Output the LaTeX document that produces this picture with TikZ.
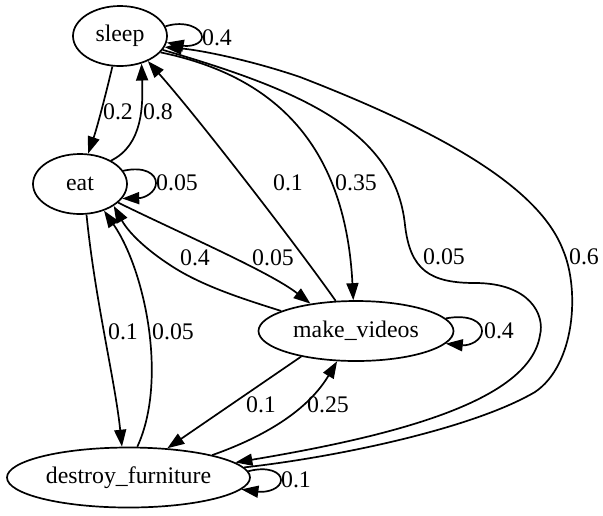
\documentclass[tikz,border=0pt]{standalone}
\usepackage{fontspec}
\setmainfont{Liberation Serif}
\usetikzlibrary{arrows.meta,shapes.geometric}
\begin{document}
\begin{tikzpicture}[x=0.5pt,y=-0.5pt,
  state/.style={draw,ellipse,line width=0.85pt,inner sep=0pt,minimum height=30pt,font=\fontsize{11.9}{14}\selectfont},
  lab/.style={inner sep=0pt,font=\fontsize{11.9}{14}\selectfont},
  edge/.style={line width=0.85pt,-{Triangle[length=8.5pt,width=6pt]}}]
\useasboundingbox (0,0) rectangle (603,515);
\fill[white] (0,0) rectangle (603,515);
% nodes
\node[state,minimum width=47pt] (sleep) at (120,36) {sleep};
\node[state,minimum width=47pt] (eat) at (80,184) {eat};
\node[state,minimum width=97.5pt] (mv) at (356,331) {make\_videos};
\node[state,minimum width=121.5pt] (df) at (128.5,477.5) {destroy\_furniture};
% edges
\draw[edge] (sleep.12) .. controls (185,20) and (202,28) .. (202,37) .. controls (202,44) and (190,47) .. (sleep.-8);
\draw[edge] (sleep.-104) .. controls (108,85) and (98,125) .. (eat.75);
\draw[edge] (eat.37) .. controls (143,145) and (143,105) .. (sleep.-52);
\draw[edge] (eat.17) .. controls (145,166) and (156,174) .. (156,183) .. controls (156,192) and (145,198) .. (eat.-19);
\draw[edge] (eat.-26) .. controls (180,233) and (270,272) .. (mv.149);
\draw[edge] (mv.165) .. controls (240,298) and (200,285) .. (170,265) .. controls (150,252) and (130,235) .. (eat.-33);
\draw[edge] (mv.124) .. controls (300,250) and (200,120) .. (sleep.-42);
\draw[edge] (sleep.-22) .. controls (270,75) and (345,140) .. (mv.95);
\draw[edge] (sleep.-18) .. controls (300,90) and (395,130) .. (405,225) .. controls (410,270) and (430,283) .. (475,283) .. controls (530,283) and (545,315) .. (540,335) .. controls (530,400) and (400,435) .. (df.8.4);
\draw[edge] (df.5) .. controls (330,458) and (470,430) .. (535,392) .. controls (575,365) and (580,290) .. (563,250) .. controls (540,190) and (450,135) .. (300,77) .. controls (250,60) and (200,50) .. (sleep.-14);
\draw[edge] (eat.-78) .. controls (95,300) and (115,380) .. (df.102);
\draw[edge] (df.74) .. controls (168,380) and (145,270) .. (eat.-48);
\draw[edge] (mv.-155) -- (df.37.5);
\draw[edge] (df.15) .. controls (255,440) and (305,415) .. (mv.-122);
\draw[edge] (mv.8.5) .. controls (470,314) and (482,322) .. (482,331) .. controls (482,340) and (470,346) .. (mv.-8.5);
\draw[edge] (df.3) .. controls (268,466) and (281,472) .. (281,480) .. controls (281,488) and (268,493) .. (df.-6.5);
% labels
\node[lab] (l1) at (217,38) {0.4};
\node[lab] (l2) at (118,112) {0.2};
\node[lab] (l3) at (158,112) {0.8};
\node[lab] (l4) at (177,183) {0.05};
\node[lab] (l5) at (273,258) {0.05};
\node[lab] (l6) at (195,258) {0.4};
\node[lab] (l7) at (288,183) {0.1};
\node[lab] (l8) at (356,183) {0.35};
\node[lab] (l9) at (444,257) {0.05};
\node[lab] (l10) at (584,257) {0.6};
\node[lab] (l11) at (123,332) {0.1};
\node[lab] (l12) at (173,332) {0.05};
\node[lab] (l13) at (261,405) {0.1};
\node[lab] (l14) at (328,405) {0.25};
\node[lab] (l15) at (499,331) {0.4};
\node[lab] (l16) at (296,480) {0.1};
\end{tikzpicture}
\end{document}
